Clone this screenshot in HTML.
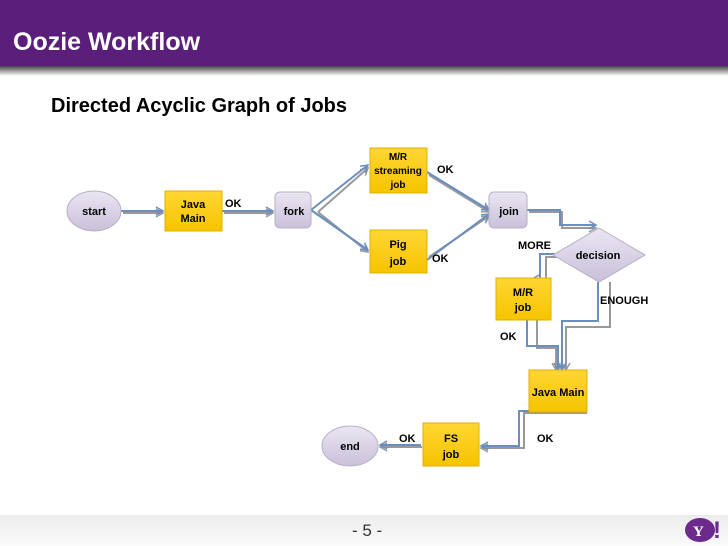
<!DOCTYPE html>
<html><head><style>
body{margin:0;width:728px;height:546px;overflow:hidden;background:#fff;font-family:"Liberation Sans",sans-serif;}
</style></head><body>
<svg width="728" height="546" xmlns="http://www.w3.org/2000/svg" style="position:absolute;left:0;top:0">
<defs>
<linearGradient id="sh" x1="0" y1="0" x2="0" y2="1"><stop offset="0" stop-color="#444"/><stop offset="1" stop-color="#fff"/></linearGradient>
<linearGradient id="ft" x1="0" y1="0" x2="0" y2="1"><stop offset="0" stop-color="#ececec"/><stop offset="1" stop-color="#fafafa"/></linearGradient>
<linearGradient id="lv" x1="0" y1="0" x2="0" y2="1"><stop offset="0" stop-color="#ebe6f2"/><stop offset="1" stop-color="#c9c0da"/></linearGradient>
<linearGradient id="yl" x1="0" y1="0" x2="0" y2="1"><stop offset="0" stop-color="#ffd633"/><stop offset="1" stop-color="#f5c400"/></linearGradient>
<marker id="a" markerWidth="10" markerHeight="10" refX="8" refY="5" orient="auto" markerUnits="userSpaceOnUse"><path d="M1,1 L8,5 L1,9" fill="none" stroke="#6a8fbf" stroke-width="1.5"/></marker>
<marker id="g" markerWidth="10" markerHeight="10" refX="8" refY="5" orient="auto" markerUnits="userSpaceOnUse"><path d="M1,1 L8,5 L1,9" fill="none" stroke="#999" stroke-width="1.5"/></marker>
</defs>
<rect x="0" y="0" width="728" height="66" fill="#5a1f7a"/>
<rect x="0" y="66" width="728" height="10" fill="url(#sh)"/>
<text x="13" y="50" font-size="25" font-weight="bold" fill="#fff">Oozie Workflow</text>
<text x="51" y="112" font-size="20" font-weight="bold" fill="#000">Directed Acyclic Graph of Jobs</text>
<rect x="0" y="515" width="728" height="31" fill="url(#ft)"/>
<text x="352" y="536" font-size="17" fill="#333">- 5 -</text>
<ellipse cx="700" cy="530" rx="15" ry="12" fill="#6b2a8c"/>
<text x="693" y="536" font-size="15" font-weight="bold" fill="#fff" font-family="Liberation Serif">Y</text>
<text x="713" y="538" font-size="24" font-weight="bold" fill="#6b2a8c">!</text>

<g fill="none" stroke-width="2">
<g stroke="#999" marker-end="url(#g)">
<path d="M123,213 L163,213"/>
<path d="M224,213 L273,213"/>
<path d="M318,212 L368,168"/>
<path d="M318,212 L368,252"/>
<path d="M429,175 L489,212"/>
<path d="M429,257 L489,216"/>
<path d="M529,212 L562,212 L562,228 L596,228"/>
<path d="M560,257 L546,257 L546,282 L536,282"/>
<path d="M610,282 L610,327 L566,327 L566,370"/>
<path d="M537,320 L537,348 L556,348 L556,370"/>
<path d="M587,413 L524,413 L524,448 L481,448"/>
<path d="M422,447 L380,447"/>
</g>
<g stroke="#6a8fbf" marker-end="url(#a)">
<path d="M121,211 L163,211"/>
<path d="M222,211 L273,211"/>
<path d="M311,210 L368,165"/>
<path d="M311,210 L368,250"/>
<path d="M527,210 L560,210 L560,225 L596,225"/>
<path d="M427,172 L489,210"/>
<path d="M427,260 L489,214"/>
<path d="M556,254 L540,254 L540,279 L532,279"/>
<path d="M598,282 L598,321 L562,321 L562,370"/>
<path d="M527,320 L527,346 L558,346 L558,370"/>
<path d="M560,411 L519,411 L519,446 L481,446"/>
<path d="M421,445 L380,445"/>
</g>
</g>

<g font-size="11" font-weight="bold" text-anchor="middle">
<ellipse cx="94" cy="211" rx="27" ry="20" fill="url(#lv)" stroke="#b8aec8"/>
<text x="94" y="215">start</text>
<rect x="165" y="191" width="57" height="40" fill="url(#yl)" stroke="#e0b000"/>
<text x="193" y="208">Java</text><text x="193" y="222">Main</text>
<rect x="275" y="192" width="36" height="36" rx="5" fill="url(#lv)" stroke="#b8aec8"/>
<text x="294" y="215">fork</text>
<rect x="370" y="148" width="57" height="45" fill="url(#yl)" stroke="#e0b000"/>
<text x="398" y="160" font-size="10">M/R</text><text x="398" y="174" font-size="10">streaming</text><text x="398" y="188" font-size="10">job</text>
<rect x="370" y="230" width="57" height="43" fill="url(#yl)" stroke="#e0b000"/>
<text x="398" y="248">Pig</text><text x="398" y="265">job</text>
<rect x="489" y="192" width="38" height="36" rx="5" fill="url(#lv)" stroke="#b8aec8"/>
<text x="509" y="215">join</text>
<path d="M599,228 L645,255 L599,282 L553,255 Z" fill="url(#lv)" stroke="#b8aec8"/>
<text x="598" y="259">decision</text>
<rect x="496" y="278" width="55" height="42" fill="url(#yl)" stroke="#e0b000"/>
<text x="523" y="296">M/R</text><text x="523" y="311">job</text>
<rect x="529" y="370" width="58" height="42" fill="url(#yl)" stroke="#e0b000"/>
<text x="558" y="396">Java Main</text>
<rect x="423" y="423" width="56" height="43" fill="url(#yl)" stroke="#e0b000"/>
<text x="451" y="442">FS</text><text x="451" y="458">job</text>
<ellipse cx="350" cy="446" rx="28" ry="20" fill="url(#lv)" stroke="#b8aec8"/>
<text x="350" y="450">end</text>
</g>
<g font-size="11" font-weight="bold">
<text x="225" y="207">OK</text>
<text x="437" y="173">OK</text>
<text x="432" y="262">OK</text>
<text x="518" y="249">MORE</text>
<text x="600" y="304">ENOUGH</text>
<text x="500" y="340">OK</text>
<text x="537" y="442">OK</text>
<text x="399" y="442">OK</text>
</g>
</svg>
</body></html>
